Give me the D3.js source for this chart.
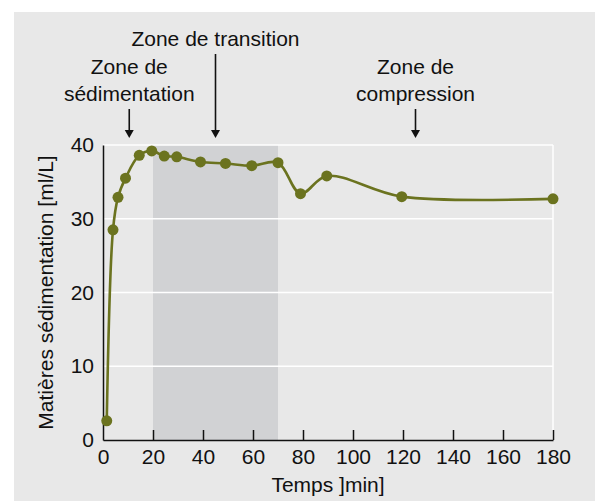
<!DOCTYPE html>
<html>
<head>
<meta charset="utf-8">
<script src="https://cdn.jsdelivr.net/npm/d3@7"></script>
<style>
  body { margin: 0; background: #fff; }
  text { font-family: "Liberation Sans", Arial, sans-serif; fill: #111; }
</style>
</head>
<body>
<svg id="chart" width="595" height="501"></svg>
<script>
// Sedimentation measurements
const times = [1.5, 4, 6, 9, 14.5, 19.5, 24.5, 29.5, 39, 49, 59.5, 70, 79, 89.5, 119.5, 180]
const volumes = [2.6, 28.5, 32.9, 35.5, 38.6, 39.2, 38.5, 38.4, 37.7, 37.5, 37.2, 37.6, 33.4, 35.8, 33.0, 32.7]

const xTicks = [0, 20, 40, 60, 80, 100, 120, 140, 160, 180]
const yTicks = [0, 10, 20, 30, 40]

// Shaded transition band (min)
const band = [20, 70]

// Zone annotations: x position of the arrow, text lines, top of arrow
const zones = [
  { x: 10.5, lines: ["Zone de", "sédimentation"], arrowTop: 109 },
  { x: 45, lines: ["Zone de transition"], arrowTop: 54 },
  { x: 125, lines: ["Zone de", "compression"], arrowTop: 109 }
]

const svg = d3.select("#chart")
const olive = "#6b731f"
const fontSize = 21

// Background panel
svg.append("rect")
  .attr("x", 14).attr("y", 12)
  .attr("width", 581).attr("height", 489)
  .attr("fill", "#e8e8e8")

const x = d3.scaleLinear().domain([0, 180]).range([103, 553])
const y = d3.scaleLinear().domain([0, 40]).range([440, 145])

// Transition band
svg.append("rect")
  .attr("x", x(band[0]))
  .attr("y", y(40))
  .attr("width", x(band[1]) - x(band[0]))
  .attr("height", y(0) - y(40))
  .attr("fill", "#d1d2d4")

// Gridlines
svg.append("g")
  .selectAll("line")
  .data(yTicks.filter(d => d > 0))
  .join("line")
  .attr("x1", x(0)).attr("x2", x(180))
  .attr("y1", d => y(d)).attr("y2", d => y(d))
  .attr("stroke", "#fff")
  .attr("stroke-width", 1.5)

svg.append("line")
  .attr("x1", x(180)).attr("x2", x(180))
  .attr("y1", y(40)).attr("y2", y(0))
  .attr("stroke", "#fff")
  .attr("stroke-width", 1.5)

// X axis: ticks pointing up
const xAxis = svg.append("g")
  .attr("transform", `translate(0,${y(0)})`)
  .call(d3.axisBottom(x).tickValues(xTicks).tickSize(-10).tickPadding(9).tickSizeOuter(0))
xAxis.select(".domain").attr("stroke", "#111").attr("stroke-width", 1.5)
xAxis.selectAll(".tick line").attr("stroke", "#111").attr("stroke-width", 1.5)
xAxis.selectAll("text").attr("font-size", fontSize).attr("fill", "#111")
xAxis.selectAll(".tick").filter(d => d === 0).select("line").remove()

// Y axis
const yAxis = svg.append("g")
  .attr("transform", `translate(${x(0)},0)`)
  .call(d3.axisLeft(y).tickValues(yTicks).tickSize(0).tickPadding(9))
yAxis.select(".domain").attr("stroke", "#111").attr("stroke-width", 1.5)
yAxis.selectAll("text").attr("font-size", fontSize).attr("fill", "#111")

// Axis titles
svg.append("text")
  .attr("x", (x(0) + x(180)) / 2)
  .attr("y", 492)
  .attr("text-anchor", "middle")
  .attr("font-size", fontSize)
  .text("Temps ]min]")

svg.append("text")
  .attr("transform", `translate(53,${(y(0) + y(40)) / 2}) rotate(-90)`)
  .attr("text-anchor", "middle")
  .attr("font-size", fontSize)
  .text("Matières sédimentation [ml/L]")

// Curve
const points = times.map((t, i) => [t, volumes[i]])
const line = d3.line()
  .x(d => x(d[0]))
  .y(d => y(d[1]))
  .curve(d3.curveCatmullRom)

svg.append("path")
  .datum(points)
  .attr("d", line)
  .attr("fill", "none")
  .attr("stroke", olive)
  .attr("stroke-width", 2.6)

svg.append("g")
  .selectAll("circle")
  .data(points)
  .join("circle")
  .attr("cx", d => x(d[0]))
  .attr("cy", d => y(d[1]))
  .attr("r", 5.5)
  .attr("fill", olive)

// Zone annotations
const zone = svg.append("g")
  .selectAll("g")
  .data(zones)
  .join("g")

zone.each(function(z) {
  const g = d3.select(this)
  const cx = x(z.x)
  const firstBaseline = z.lines.length === 1 ? 46 : 74
  z.lines.forEach((l, i) => {
    g.append("text")
      .attr("x", cx)
      .attr("y", firstBaseline + i * 27)
      .attr("text-anchor", "middle")
      .attr("font-size", fontSize)
      .text(l)
  })
  g.append("line")
    .attr("x1", cx).attr("x2", cx)
    .attr("y1", z.arrowTop).attr("y2", 132)
    .attr("stroke", "#111")
    .attr("stroke-width", 1.6)
  g.append("path")
    .attr("d", `M${cx - 4.5},130 L${cx + 4.5},130 L${cx},138 Z`)
    .attr("fill", "#111")
})
</script>
</body>
</html>
